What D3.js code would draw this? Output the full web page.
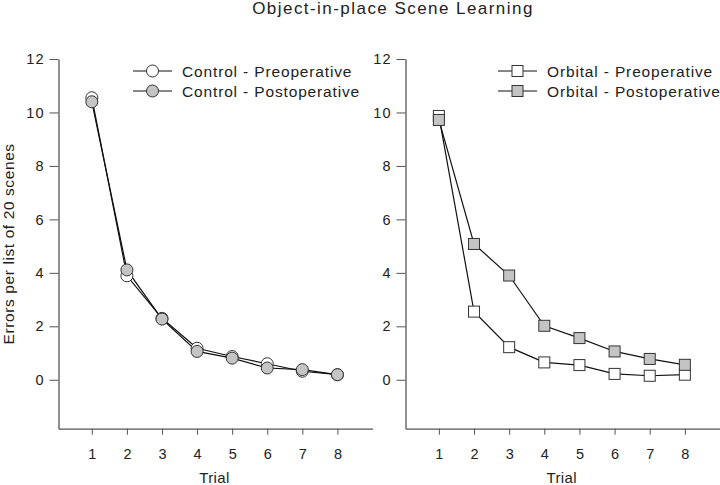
<!DOCTYPE html>
<html>
<head>
<meta charset="utf-8">
<script src="https://cdn.jsdelivr.net/npm/d3@7"></script>
<style>
  html, body { margin: 0; padding: 0; background: #fff; }
  svg { display: block; font-family: "Liberation Sans", Arial, sans-serif; }
</style>
</head>
<body>
<svg id="chart" width="720" height="485"></svg>
<script>
// ---- Data ----
const trials = [1, 2, 3, 4, 5, 6, 7, 8];
const yTicks = [0, 2, 4, 6, 8, 10, 12];
const controlPre  = [10.55, 3.89, 2.30, 1.18, 0.87, 0.60, 0.32, 0.19];
const controlPost = [10.40, 4.11, 2.27, 1.06, 0.81, 0.44, 0.38, 0.19];
const orbitalPre  = [9.87, 2.55, 1.22, 0.65, 0.55, 0.22, 0.15, 0.19];
const orbitalPost = [9.72, 5.08, 3.90, 2.02, 1.56, 1.06, 0.78, 0.56];
const title = "Object-in-place Scene Learning";
const yLabel = "Errors per list of 20 scenes";
const xLabel = "Trial";

const panels = [
  { x0: 58.5, x1: 372.5, legendX: 133,
    series: [
      { name: "Control - Preoperative", values: controlPre, shape: "circle", fill: "#ffffff" },
      { name: "Control - Postoperative", values: controlPost, shape: "circle", fill: "#c4c4c4" }
    ] },
  { x0: 405.5, x1: 720, legendX: 498,
    series: [
      { name: "Orbital - Preoperative", values: orbitalPre, shape: "square", fill: "#ffffff" },
      { name: "Orbital - Postoperative", values: orbitalPost, shape: "square", fill: "#c4c4c4" }
    ] }
];

const svg = d3.select("#chart");
const textColor = "#222";
const axisColor = "#555";
const yTop = 59, yBottom = 428.7;

svg.append("text")
  .attr("x", 393).attr("y", 14)
  .attr("text-anchor", "middle")
  .attr("font-size", 17)
  .attr("letter-spacing", 1.45)
  .attr("fill", textColor)
  .text(title);

function drawMarker(g, shape, cx, cy, fill) {
  if (shape === "circle") {
    g.append("circle").attr("cx", cx).attr("cy", cy).attr("r", 6)
      .attr("fill", fill).attr("stroke", "#333").attr("stroke-width", 1);
  } else {
    g.append("rect").attr("x", cx - 5.5).attr("y", cy - 5.5)
      .attr("width", 11).attr("height", 11)
      .attr("fill", fill).attr("stroke", "#333").attr("stroke-width", 1);
  }
}

panels.forEach((p, pi) => {
  const x = d3.scaleLinear().domain([0.05, 9]).range([p.x0, p.x1]);
  const y = d3.scaleLinear().domain([-1.83, 12]).range([yBottom, yTop]);
  const g = svg.append("g");

  // Y axis
  const ya = g.append("g").attr("transform", `translate(${p.x0},0)`)
    .call(d3.axisLeft(y).tickValues(yTicks).tickSize(9).tickPadding(5).tickSizeOuter(0));
  ya.select(".domain").attr("stroke", axisColor).attr("stroke-width", 1.3);
  ya.selectAll(".tick line").attr("stroke", axisColor);
  ya.selectAll(".tick text").attr("font-size", 14.5).attr("fill", textColor)
    .attr("letter-spacing", 1)
    .attr("font-family", "Liberation Sans, Arial, sans-serif");

  // X axis
  const xa = g.append("g").attr("transform", `translate(0,${yBottom})`)
    .call(d3.axisBottom(x).tickValues(trials).tickSize(6).tickPadding(14).tickSizeOuter(0));
  xa.select(".domain").attr("stroke", axisColor).attr("stroke-width", 1.3);
  xa.selectAll(".tick line").attr("stroke", axisColor);
  xa.selectAll(".tick text").attr("font-size", 14.5).attr("fill", textColor)
    .attr("font-family", "Liberation Sans, Arial, sans-serif");

  g.append("text")
    .attr("x", (p.x0 + p.x1) / 2 - 1).attr("y", 483)
    .attr("text-anchor", "middle").attr("font-size", 15).attr("fill", textColor)
    .attr("letter-spacing", 0.4)
    .text(xLabel);

  if (pi === 0) {
    g.append("text")
      .attr("transform", `translate(14,${(yTop + yBottom) / 2}) rotate(-90)`)
      .attr("text-anchor", "middle").attr("font-size", 15.5).attr("fill", textColor)
      .attr("letter-spacing", 0.6)
      .text(yLabel);
  }

  const line = d3.line().x((d, i) => x(trials[i])).y(d => y(d));
  [1, 0].forEach(si => {
    const s = p.series[si];
    g.append("path").datum(s.values).attr("d", line)
      .attr("fill", "none").attr("stroke", "#111").attr("stroke-width", 1.2);
  });
  p.series.forEach(s => {
    s.values.forEach((v, i) => drawMarker(g, s.shape, x(trials[i]), y(v), s.fill));
  });

  // Legend
  p.series.forEach((s, i) => {
    const ly = 71 + i * 20;
    g.append("line").attr("x1", p.legendX).attr("x2", p.legendX + 39)
      .attr("y1", ly).attr("y2", ly).attr("stroke", "#111").attr("stroke-width", 1.2);
    drawMarker(g, s.shape, p.legendX + 19.5, ly, s.fill);
    g.append("text").attr("x", p.legendX + 49).attr("y", ly + 5.5)
      .attr("font-size", 15.5).attr("fill", textColor).attr("letter-spacing", 0.85)
      .text(s.name);
  });
});
</script>
</body>
</html>
